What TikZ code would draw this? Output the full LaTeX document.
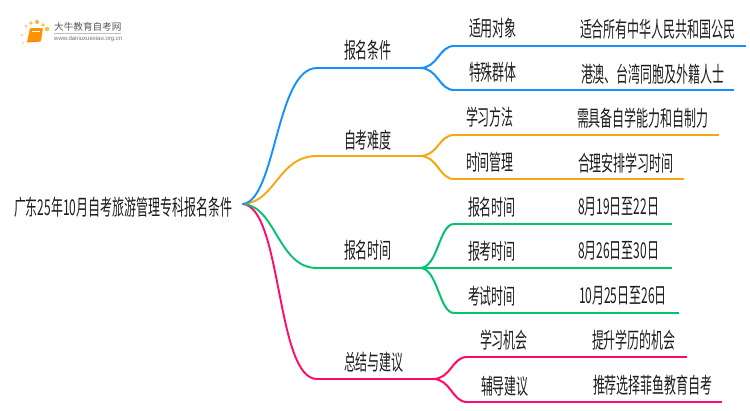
\documentclass[tikz,border=0pt]{standalone}
\usepackage{fontspec}
\setmainfont{Liberation Sans}
\newfontfamily\cjk[FakeStretch=0.55]{Noto Sans CJK SC}
\newfontfamily\cjklogo{Noto Sans CJK SC}
\definecolor{cblue}{HTML}{1490FF}
\definecolor{corange}{HTML}{F5A810}
\definecolor{cgreen}{HTML}{05C26E}
\definecolor{cpink}{HTML}{FF0A6E}
\definecolor{ctext}{HTML}{1E1E1E}
\tikzset{
  lab/.style={anchor=west,inner sep=0pt,outer sep=0pt,text=ctext,font=\cjk\fontsize{21.8}{22}\selectfont},
  main/.style={line width=1.9pt,line cap=round},
  bar/.style={line width=2.6pt,line cap=butt},
  sub/.style={line width=2pt,line cap=round},
  dot/.style={circle,fill=#1,inner sep=0pt,minimum size=3pt}
}
\newcommand{\subcurve}[3]{\draw[sub,#1] (#2) .. controls ($(#2)+(18,0)$) and ($(#3)+(-15,0)$) .. (#3);}
\usetikzlibrary{calc}
\begin{document}
\begin{tikzpicture}[x=1pt,y=-1pt]
\useasboundingbox (0,0) rectangle (750,410);
\fill[white] (0,0) rectangle (750,410);

% logo
\node[dot={corange!45},minimum size=2.2pt] (d1) at (23,43) {};
\node[dot={corange!45},minimum size=2.6pt] (d2) at (22,35) {};
\node[dot={corange!60},minimum size=3pt] (d3) at (26,26) {};
\node[dot={corange!70},minimum size=3.8pt] (d4) at (31,23) {};
\node[dot={corange!80},minimum size=4.2pt] (d5) at (37,22) {};
\node[dot={corange!70},minimum size=3.8pt] (d6) at (43,25) {};
\node[dot={corange!75},minimum size=4.6pt] (d7) at (47,29) {};
\fill[orange!85!yellow,rounded corners=1pt] (30,28) -- (43,28) -- (41,41) -- (27,42) -- cycle;
\draw[orange!90!red,line width=.8pt] (27,42) -- (41,41);
\draw[white,line width=.6pt] (32,31) -- (40,31);
\node[anchor=west,inner sep=0pt,text=black!65,font=\cjklogo\fontsize{9.6}{10}\selectfont] (lt) at (54,27) {大牛教育自考网};
\draw[black!25,line width=.5pt] (54,33) -- (121,33);
\node[anchor=west,inner sep=0pt,text=black!55,font=\fontsize{6}{6}\selectfont] (lu) at (54,38.5) {www.daniuxuexiao.org.cn};

% root
\node[lab] (root) at (14,207) {广东25年10月自考旅游管理专科报名条件};
\coordinate (o) at (243,204);

% level 1 labels
\node[lab] (a) at (344,50) {报名条件};
\node[lab] (b) at (344,140) {自考难度};
\node[lab] (c) at (344,250) {报名时间};
\node[lab] (d) at (344,362) {总结与建议};

% level 1 junctions
\coordinate (a0) at (317,68); \coordinate (a1) at (420,68);
\coordinate (b0) at (317,156); \coordinate (b1) at (420,156);
\coordinate (c0) at (317,268); \coordinate (c1) at (420,268);
\coordinate (d0) at (317,379); \coordinate (d1j) at (433,379);

\draw[main,cpink] (o) .. controls (282,208) and (276,379) .. (d0);
\draw[main,cgreen] (o) .. controls (276,206) and (278,268) .. (c0);
\draw[main,corange] (o) .. controls (276,202) and (278,156) .. (b0);
\draw[main,cblue] (o) .. controls (276,200) and (276,68) .. (a0);
\draw[bar,cblue] (a0) -- (a1);
\draw[bar,corange] (b0) -- (b1);
\draw[bar,cgreen] (c0) -- (c1);
\draw[bar,cpink] (d0) -- (d1j);

% level 2/3 labels
\node[lab] (a1t) at (469,28) {适用对象};
\node[lab] (a1v) at (580,29) {适合所有中华人民共和国公民};
\node[lab] (a2t) at (469,72) {特殊群体};
\node[lab] (a2v) at (581,74) {港澳、台湾同胞及外籍人士};
\node[lab] (b1t) at (466,117) {学习方法};
\node[lab] (b1v) at (577,118) {需具备自学能力和自制力};
\node[lab] (b2t) at (466,162) {时间管理};
\node[lab] (b2v) at (578,163) {合理安排学习时间};
\node[lab] (c1t) at (468,207) {报名时间};
\node[lab] (c1v) at (578,207) {8月19日至22日};
\node[lab] (c2t) at (468,251) {报考时间};
\node[lab] (c2v) at (578,251) {8月26日至30日};
\node[lab] (c3t) at (468,296) {考试时间};
\node[lab] (c3v) at (579,296) {10月25日至26日};
\node[lab] (d1t) at (480,340) {学习机会};
\node[lab] (d1v) at (592,340) {提升学历的机会};
\node[lab] (d2t) at (481,386) {辅导建议};
\node[lab] (d2v) at (593,385) {推荐选择菲鱼教育自考};

% leaf rails
\coordinate (pa1) at (454,46); \coordinate (ea1) at (746,46);
\coordinate (pa2) at (454,90); \coordinate (ea2) at (734,90);
\coordinate (pb1) at (454,135); \coordinate (eb1) at (719,135);
\coordinate (pb2) at (454,179); \coordinate (eb2) at (684,179);
\coordinate (pc1) at (454,224); \coordinate (ec1) at (672,224);
\coordinate (ec2) at (672,268);
\coordinate (pc3) at (454,313); \coordinate (ec3) at (679,313);
\coordinate (pd1) at (467,357); \coordinate (ed1) at (687,357);
\coordinate (pd2) at (467,402); \coordinate (ed2) at (722,402);

\subcurve{cblue}{a1}{pa1} \subcurve{cblue}{a1}{pa2}
\subcurve{corange}{b1}{pb1} \subcurve{corange}{b1}{pb2}
\subcurve{cgreen}{c1}{pc1} \subcurve{cgreen}{c1}{pc3}
\subcurve{cpink}{d1j}{pd1} \subcurve{cpink}{d1j}{pd2}
\draw[bar,cblue] (pa1) -- (ea1);
\draw[bar,cblue] (pa2) -- (ea2);
\draw[bar,corange] (pb1) -- (eb1);
\draw[bar,corange] (pb2) -- (eb2);
\draw[bar,cgreen] (pc1) -- (ec1);
\draw[bar,cgreen] (c1) -- (ec2);
\draw[bar,cgreen] (pc3) -- (ec3);
\draw[bar,cpink] (pd1) -- (ed1);
\draw[bar,cpink] (pd2) -- (ed2);
\end{tikzpicture}
\end{document}
